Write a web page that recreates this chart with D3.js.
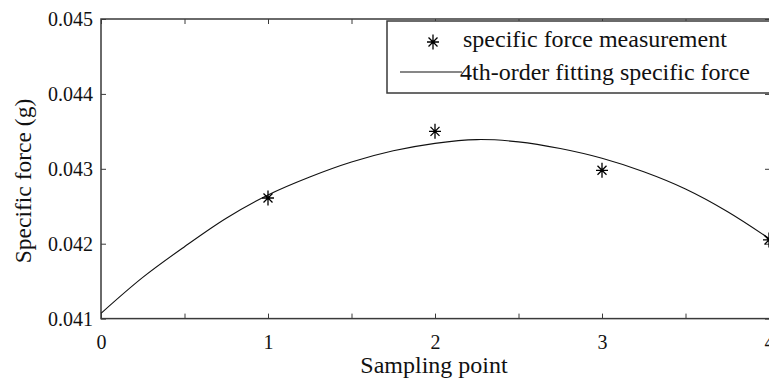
<!DOCTYPE html>
<html lang="en">
<head>
    <meta charset="UTF-8">
    <title>Specific force</title>
    <script src="https://d3js.org/d3.v7.min.js"></script>
    <style>
        body { margin: 0; background: #fff; }
        svg { display: block; }
    </style>
</head>
<body>
    <script>
        // measured points
        const measX = [1, 2, 3, 4];
        const measY = [0.04261, 0.04350, 0.04298, 0.04205];

        // fitted curve
        const fitX = [0, 0.25, 0.5, 0.75, 1, 1.25, 1.5, 1.75, 2, 2.25, 2.5, 2.75, 3, 3.25, 3.5, 3.75, 4];
        const fitY = [0.04107, 0.04155, 0.04196, 0.04234, 0.04265, 0.04289, 0.04309, 0.04324, 0.04334,
                      0.04339, 0.04336, 0.04327, 0.04314, 0.04296, 0.04273, 0.04243, 0.04207];

        const xTicks = [0, 0.5, 1, 1.5, 2, 2.5, 3, 3.5, 4];
        const yTicks = [0.041, 0.042, 0.043, 0.044, 0.045];
        const legendLabels = ["specific force measurement", "4th-order fitting specific force"];

        const w = 769;
        const h = 378;
        const padL = 101, padR = 770, padT = 19, padB = 318.6;
        const serif = "'Liberation Serif', 'Times New Roman', serif";

        const xScale = d3.scaleLinear().domain([0, 4]).range([padL, padR - 1]);
        const yScale = d3.scaleLinear().domain([0.041, 0.045]).range([padB, padT]);

        const svg = d3.select("body")
                      .append("svg")
                      .attr("width", w)
                      .attr("height", h)
                      .attr("font-family", serif);

        // frame
        svg.append("rect")
           .attr("x", padL)
           .attr("y", padT)
           .attr("width", padR - padL)
           .attr("height", padB - padT)
           .attr("fill", "none")
           .attr("stroke", "#3a3a3a")
           .attr("stroke-width", 1.5);

        const styleAxis = (g) => {
            g.select(".domain").remove();
            g.attr("font-family", serif).attr("font-size", 20);
            g.selectAll("line").attr("stroke", "#3a3a3a");
            g.selectAll("text").attr("fill", "#111");
        };

        svg.append("g")
           .attr("transform", "translate(0," + padB + ")")
           .call(d3.axisBottom(xScale).tickValues(xTicks).tickSize(-5).tickSizeOuter(0).tickPadding(16)
                 .tickFormat((d) => Number.isInteger(d) ? d : ""))
           .call(styleAxis);

        svg.append("g")
           .attr("transform", "translate(0," + padT + ")")
           .call(d3.axisTop(xScale).tickValues(xTicks).tickSize(-5).tickSizeOuter(0).tickFormat(""))
           .call(styleAxis);

        svg.append("g")
           .attr("transform", "translate(" + padL + ",0)")
           .call(d3.axisLeft(yScale).tickValues(yTicks).tickSize(-5).tickSizeOuter(0).tickPadding(8)
                 .tickFormat(d3.format(".3f")))
           .call(styleAxis);

        svg.append("g")
           .attr("transform", "translate(" + padR + ",0)")
           .call(d3.axisRight(yScale).tickValues(yTicks).tickSize(-5).tickSizeOuter(0).tickFormat(""))
           .call(styleAxis);

        // fitted curve
        const line = d3.line()
                       .x((d) => xScale(d[0]))
                       .y((d) => yScale(d[1]))
                       .curve(d3.curveCatmullRom);

        svg.append("path")
           .datum(fitX.map((x, i) => [x, fitY[i]]))
           .attr("d", line)
           .attr("fill", "none")
           .attr("stroke", "#111")
           .attr("stroke-width", 1.1);

        // star marker
        const star = "M0,-7.5L0,7.5M-6,0L6,0M-4.5,-4.5L4.5,4.5M-4.5,4.5L4.5,-4.5";

        svg.selectAll(".star")
           .data(measX.map((x, i) => [x, measY[i]]))
           .enter()
           .append("path")
           .attr("class", "star")
           .attr("transform", (d) => "translate(" + xScale(d[0]) + "," + yScale(d[1]) + ")")
           .attr("d", star)
           .attr("fill", "none")
           .attr("stroke", "#000")
           .attr("stroke-width", 1.3);

        // axis titles
        svg.append("text")
           .attr("x", 434)
           .attr("y", 373)
           .attr("text-anchor", "middle")
           .attr("font-size", 24)
           .attr("fill", "#111")
           .text("Sampling point");

        svg.append("text")
           .attr("transform", "translate(31,181) rotate(-90)")
           .attr("text-anchor", "middle")
           .attr("font-size", 23.5)
           .attr("fill", "#111")
           .text("Specific force (g)");

        // legend
        const legend = svg.append("g");
        legend.append("rect")
              .attr("x", 387)
              .attr("y", 21)
              .attr("width", 400)
              .attr("height", 72)
              .attr("fill", "#fff")
              .attr("stroke", "#3a3a3a")
              .attr("stroke-width", 1.5);

        legend.append("path")
              .attr("transform", "translate(433,42)")
              .attr("d", star)
              .attr("fill", "none")
              .attr("stroke", "#000")
              .attr("stroke-width", 1.3);

        legend.append("line")
              .attr("x1", 400).attr("x2", 462)
              .attr("y1", 72).attr("y2", 72)
              .attr("stroke", "#111")
              .attr("stroke-width", 1.1);

        legend.selectAll(".lbl")
              .data(legendLabels)
              .enter()
              .append("text")
              .attr("class", "lbl")
              .attr("x", (d, i) => i === 0 ? 463 : 460)
              .attr("y", (d, i) => i === 0 ? 47 : 80)
              .attr("font-size", 24)
              .attr("fill", "#111")
              .text((d) => d);
    </script>
</body>
</html>
